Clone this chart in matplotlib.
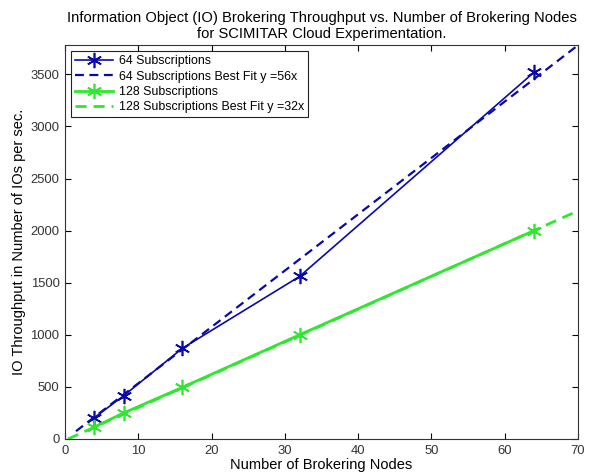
import matplotlib.pyplot as plt

plt.rcParams['font.family'] = ['Liberation Sans', 'DejaVu Sans']

# data
nodes = [4, 8, 16, 32, 64]
io_64 = [205, 415, 870, 1560, 3520]
io_128 = [115, 250, 495, 1000, 2000]

# best fit lines (end points)
fit_x_64 = [1.5, 70]
fit_y_64 = [75, 3780]
fit_x_128 = [0.4, 70]
fit_y_128 = [0, 2190]

blue = '#0a0aa8'
green = '#2ee82e'
asterisk = (6, 2, 0)

fig = plt.figure(figsize=(5.91, 4.75), dpi=100)
ax = fig.add_axes([0.110, 0.0758, 0.868, 0.829])

ax.plot(nodes, io_64, color=blue, lw=1.2, marker=asterisk, ms=11, mew=1.2,
        label='64 Subscriptions')
ax.plot(fit_x_64, fit_y_64, color=blue, lw=1.6, ls=(0, (4, 2.5)),
        label='64 Subscriptions Best Fit y =56x')
ax.plot(nodes, io_128, color=green, lw=2, marker=asterisk, ms=11, mew=1.2,
        label='128 Subscriptions')
ax.plot(fit_x_128, fit_y_128, color=green, lw=2, ls=(0, (4, 2.5)),
        label='128 Subscriptions Best Fit y =32x')

ax.set_xlim(0, 70)
ax.set_ylim(0, 3780)
ax.set_xticks(range(0, 71, 10))
ax.set_yticks(range(0, 3501, 500))
ax.tick_params(direction='in', top=True, right=True, labelsize=9.4,
               labelcolor='#333333', length=4, pad=4)
for s in ax.spines.values():
    s.set_color('#333333')

ax.set_xlabel('Number of Brokering Nodes', fontsize=10.5, labelpad=1)
ax.set_ylabel('IO Throughput in Number of IOs per sec.', fontsize=10.5,
              labelpad=3)
ax.set_title('Information Object (IO) Brokering Throughput vs. Number of Brokering Nodes\n'
             'for SCIMITAR Cloud Experimentation.', fontsize=10.6, pad=5,
             linespacing=1.2)

leg = ax.legend(loc='upper left', fontsize=8.9, handlelength=3.1,
                fancybox=False, edgecolor='#222222', framealpha=1,
                borderpad=0.3, labelspacing=0.28, handletextpad=0.45,
                borderaxespad=0.5)
leg.get_frame().set_linewidth(0.8)

fig.savefig('out.png', dpi=100)
